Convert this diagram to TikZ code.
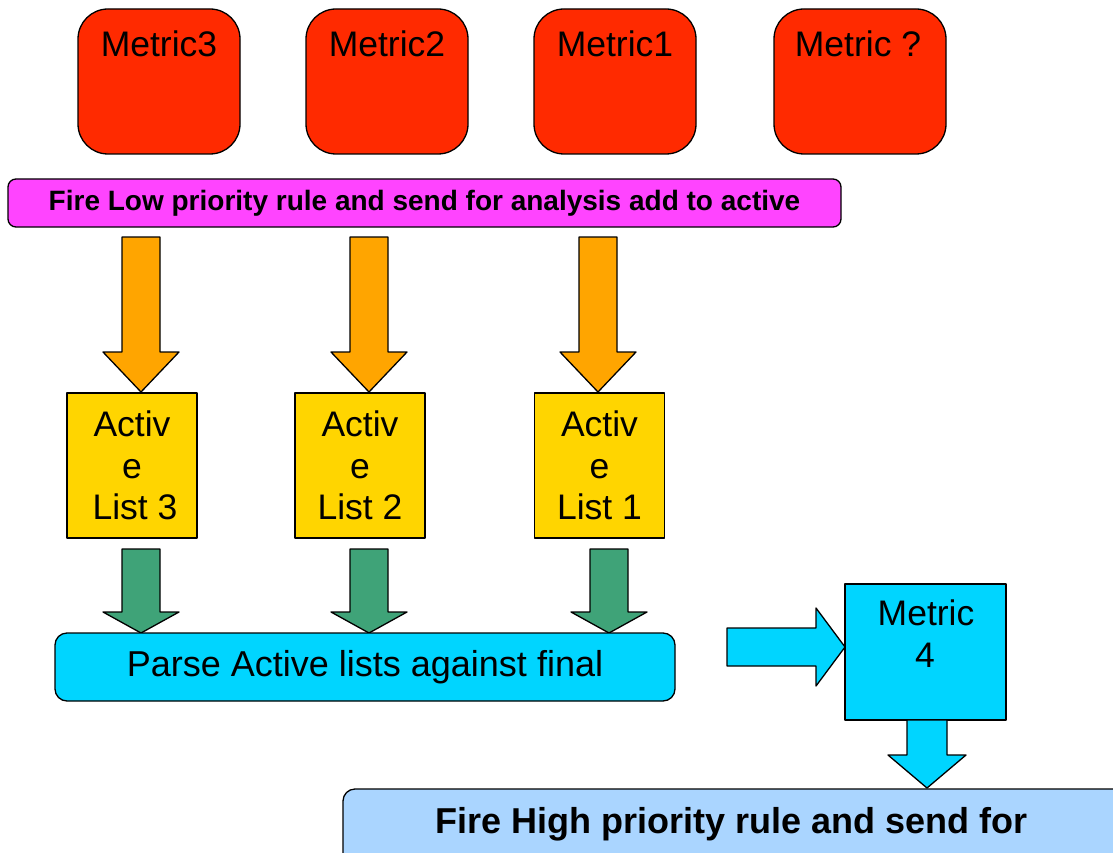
\documentclass[tikz,border=0pt]{standalone}
\usepackage{fontspec}
\setmainfont{Liberation Sans}
\definecolor{metred}{HTML}{FF2A00}
\definecolor{firepink}{HTML}{FF44FF}
\definecolor{arrorange}{HTML}{FFA500}
\definecolor{listyellow}{HTML}{FFD500}
\definecolor{arrgreen}{HTML}{3FA378}
\definecolor{parsecyan}{HTML}{00D5FF}
\definecolor{highblue}{HTML}{AAD5FF}
% color, cx, ytop, yhead, ytip, shaft half, head half
\newcommand{\blockdown}[7]{%
  \draw[edge,fill=#1] (#2-#6,#3) -- (#2+#6,#3) -- (#2+#6,#4) -- (#2+#7,#4)
    -- (#2,#5) -- (#2-#7,#4) -- (#2-#6,#4) -- cycle;}
% color, cy, xleft, xhead, xtip, shaft half, head half
\newcommand{\blockright}[7]{%
  \draw[edge,fill=#1] (#3,#2-#6) -- (#4,#2-#6) -- (#4,#2-#7) -- (#5,#2)
    -- (#4,#2+#7) -- (#4,#2+#6) -- (#3,#2+#6) -- cycle;}
\begin{document}
\begin{tikzpicture}[x=1pt,y=-1pt,
  edge/.style={draw=black,line width=1.3pt,line join=round},
  bigtext/.style={font=\fontsize{35.5}{42}\selectfont},
  metricbox/.style={edge,fill=metred,rounded corners=30pt,minimum height=145pt,inner sep=0pt},
  listbox/.style={edge,fill=listyellow,minimum width=130pt,minimum height=145pt,inner sep=0pt,
    align=center,font=\fontsize{35.5}{41.5}\selectfont},
  txt/.style={bigtext,anchor=base,inner sep=0pt}
]
\useasboundingbox (0,0) rectangle (1113,853);

% top metric boxes
\node[metricbox,minimum width=162pt] (m3) at (159,81.5) {};
\node[metricbox,minimum width=162pt] (m2) at (387,81.5) {};
\node[metricbox,minimum width=162pt] (m1) at (615,81.5) {};
\node[metricbox,minimum width=172pt] (mq) at (860,81.5) {};
\node[txt] (m3t) at (159,57) {Metric3};
\node[txt] (m2t) at (387,57) {Metric2};
\node[txt] (m1t) at (615,57) {Metric1};
\node[txt] (mqt) at (858,57) {Metric ?};

% low priority banner
\node[edge,fill=firepink,rounded corners=8pt,minimum width=833pt,minimum height=48pt,inner sep=0pt,
  font=\fontsize{28}{32}\selectfont\bfseries] (low) at (424.5,203) {Fire Low priority rule and send for analysis add to active};

% orange arrows
\blockdown{arrorange}{141}{237}{352}{392}{19}{38}
\blockdown{arrorange}{369}{237}{352}{392}{19}{38}
\blockdown{arrorange}{598}{237}{352}{392}{19}{38}

% active lists
\node[listbox] (l3) at (132,465.5) {Activ\\e\\\hspace*{6pt}List 3};
\node[listbox] (l2) at (360,465.5) {Activ\\e\\List 2};
\node[listbox] (l1) at (599.5,465.5) {Activ\\e\\List 1};

% green arrows
\blockdown{arrgreen}{141}{549}{612}{633}{19}{38}
\blockdown{arrgreen}{369}{549}{612}{633}{19}{38}
\blockdown{arrgreen}{609}{549}{612}{633}{19}{38}

% parse box
\node[edge,fill=parsecyan,rounded corners=12pt,minimum width=620pt,minimum height=68pt,inner sep=0pt,
  font=\fontsize{36}{42}\selectfont]
  (parse) at (365,667) {Parse Active lists against final};

% right arrow
\blockright{parsecyan}{647}{727}{816}{845}{19}{39}

% metric 4
\node[edge,fill=parsecyan,minimum width=161pt,minimum height=136pt,inner sep=0pt] (m4) at (925.5,652) {};
\node[txt] (m4a) at (926,625) {Metric};
\node[txt] (m4b) at (925,667) {4};

% down arrow
\blockdown{parsecyan}{927}{720}{755}{788}{20}{39}

% high priority box
\node[edge,fill=highblue,rounded corners=12pt,minimum width=782pt,minimum height=111pt,inner sep=0pt] (high) at (734,844.5) {};
\node[txt,font=\fontsize{36}{42}\selectfont\bfseries] (hight) at (731.5,833) {Fire High priority rule and send for};
\end{tikzpicture}
\end{document}
